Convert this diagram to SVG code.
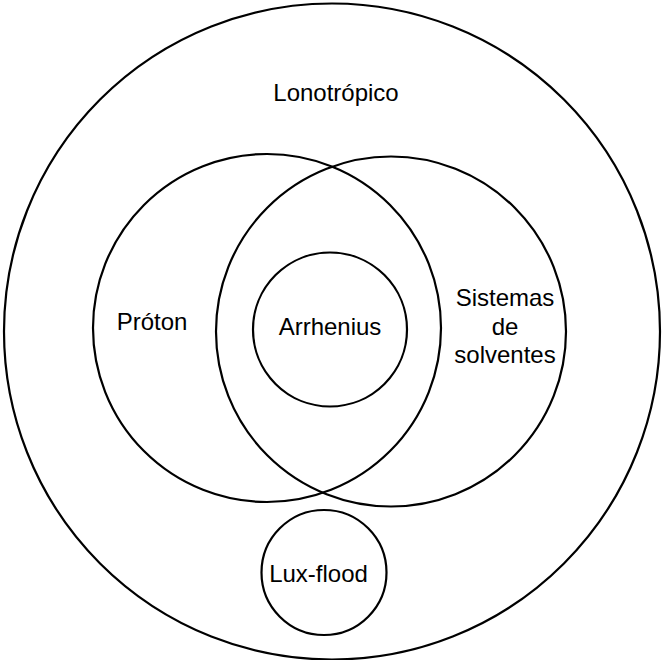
<svg xmlns="http://www.w3.org/2000/svg" width="662" height="660" viewBox="0 0 662 660">
<style>
circle{fill:none;stroke:#000;stroke-width:2.2}
text{font-family:"Liberation Sans",Arial,sans-serif;font-size:24px;fill:#000;text-anchor:middle}
</style>
<rect width="662" height="660" fill="#fff"/>
<g id="lonotropico"><circle cx="332" cy="331.5" r="328"/><text x="336" y="101">Lonotrópico</text></g>
<g id="proton"><circle cx="267" cy="328" r="174"/><text x="152" y="330">Próton</text></g>
<g id="sistemas"><circle cx="391" cy="331.5" r="175"/><text x="505" y="306">Sistemas</text><text x="505" y="334.5">de</text><text x="505" y="363">solventes</text></g>
<g id="arrhenius"><circle cx="330" cy="329.5" r="77"/><text x="330" y="334.5">Arrhenius</text></g>
<g id="luxflood"><circle cx="324" cy="572.5" r="62.5"/><text x="318.5" y="582">Lux-flood</text></g>
<g id="connectors"/>
</svg>
